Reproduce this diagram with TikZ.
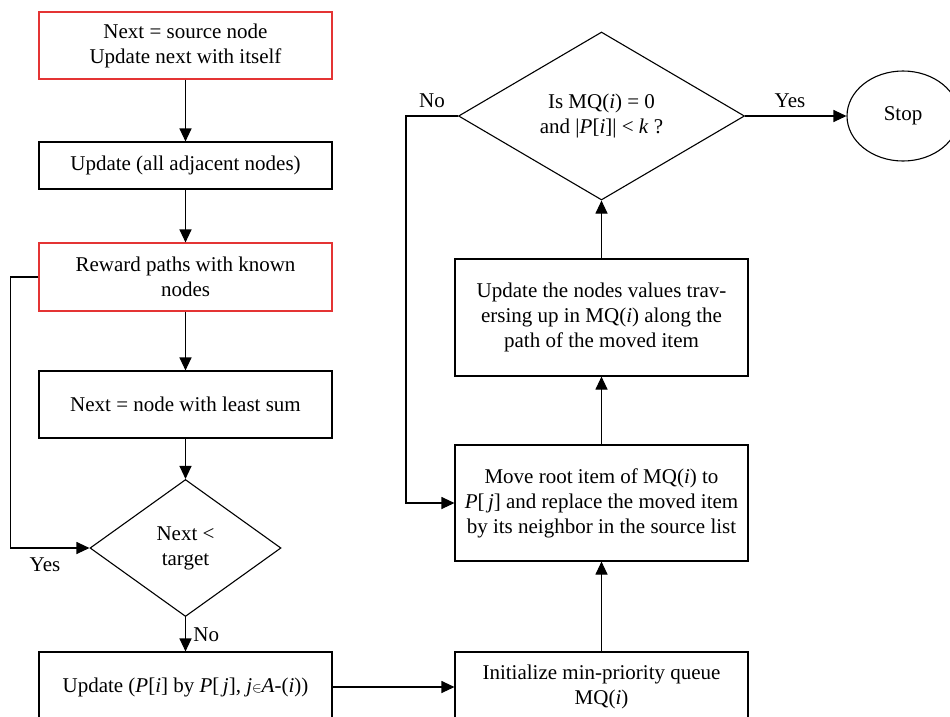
\documentclass[tikz,border=0pt]{standalone}
\usepackage{fontspec}
\setmainfont{Liberation Serif}
\usetikzlibrary{shapes.geometric, arrows.meta}

\tikzset{
  box/.style={draw, line width=1.1pt, minimum width=293pt, align=center, inner sep=2pt},
  redbox/.style={box, draw={rgb,255:red,228;green,52;blue,52}},
  decision/.style={draw, line width=1.1pt, diamond, align=center, inner sep=0pt},
  arr/.style={line width=1.1pt, -{Triangle[length=13pt,width=12pt]}},
  lnk/.style={line width=1.1pt}
}

\begin{document}
\begin{tikzpicture}[x=1pt,y=1pt,yscale=-1,xscale=1,font=\fontsize{21}{25}\selectfont]
\clip (0,0) rectangle (950,716);

% left column
\node [redbox, minimum height=67pt] (src) at (185.5,45.5) {Next = source node\\Update next with itself};
\node [box, minimum height=47pt] (adj) at (185.5,165.5) {Update (all adjacent nodes)};
\node [redbox, minimum height=68pt] (rwd) at (185.5,277) {Reward paths with known\\nodes};
\node [box, minimum height=67pt] (lst) at (185.5,404.5) {Next = node with least sum};
\node [decision, minimum width=191pt, minimum height=137pt] (tgt) at (185.5,548) {Next <\\target};
\node [box, minimum height=70pt] (upd) at (185.5,687) {Update (\textit{P}[\textit{i}] by \textit{P}[\,\textit{j}], \textit{j}$\scriptstyle\in$\textit{A}-(\textit{i}))};

% right column
\node [box, minimum height=70pt] (init) at (601.5,687) {Initialize min-priority queue\\MQ(\textit{i})};
\node [box, minimum height=116pt] (mov) at (601.5,503) {Move root item of MQ(\textit{i}) to\\\textit{P}[\,\textit{j}] and replace the moved item\\by its neighbor in the source list};
\node [box, minimum height=117pt] (trv) at (601.5,317.5) {Update the nodes values trav-\\ersing up in MQ(\textit{i}) along the\\path of the moved item};
\node [decision, minimum width=286pt, minimum height=168pt] (chk) at (601.5,116) {Is MQ(\textit{i}) = 0\\and |\textit{P}[\textit{i}]| < \textit{k} ?};
\node [draw, line width=1.1pt, ellipse, minimum width=112pt, minimum height=90pt] (stop) at (903,116) {Stop};

% connectors
\draw [arr] (src) -- (adj);
\draw [arr] (adj) -- (rwd);
\draw [arr] (rwd) -- (lst);
\draw [arr] (lst) -- (tgt);
\draw [arr] (rwd.west) -- ++(-28,0) |- (tgt.west);
\draw [arr] (tgt.south) -- (upd.north) node [midway, right, xshift=4pt] {No};
\draw [arr] (upd.east) -- (init.west);
\draw [arr] (init.north) -- (mov.south);
\draw [arr] (mov.north) -- (trv.south);
\draw [arr] (trv.north) -- (chk.south);
\draw [arr] (chk.west) -- ++(-52,0) |- (mov.west);
\draw [arr] (chk.east) -- (stop.west);

% branch labels
\node (yes1) at (45,565) {Yes};
\node (no2) at (432,101) {No};
\node (yes2) at (790,101) {Yes};

\end{tikzpicture}
\end{document}
